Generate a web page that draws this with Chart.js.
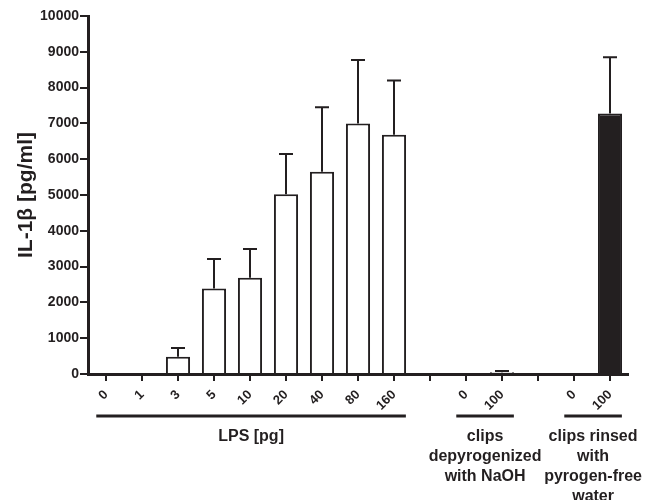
<!DOCTYPE html>
<html>
<head>
<meta charset="utf-8">
<script src="https://cdn.jsdelivr.net/npm/chart.js@4.4.1/dist/chart.umd.min.js"></script>
<style>
  html, body { margin: 0; padding: 0; background: #fff; }
  #wrap { width: 655px; height: 500px; }
</style>
</head>
<body>
<div id="wrap"><canvas id="il1bChart"></canvas></div>
<script>
// categories on the x axis ('' = spacer between groups)
const labels = ['0', '1', '3', '5', '10', '20', '40', '80', '160', '', '0', '100', '', '0', '100'];
// mean IL-1b (pg/ml)
const means = [0, 0, 485, 2390, 2690, 5020, 5650, 7000, 6685, null, 0, 50, null, 0, 7280];
// upper end of the error bar (mean + SD)
const upper = [null, null, 725, 3210, 3490, 6145, 7450, 8770, 8195, null, null, 85, null, null, 8845];
const yTicks = [0, 1000, 2000, 3000, 4000, 5000, 6000, 7000, 8000, 9000, 10000];
// groups under the axis: first and last category index, label lines
const groupNames = [['LPS [pg]'], ['clips', 'depyrogenized', 'with NaOH'], ['clips rinsed', 'with', 'pyrogen-free', 'water']];
const groupFrom = [0, 10, 13];
const groupTo = [8, 11, 14];

const ink = '#231f20';
const font = '"Liberation Sans", Arial, Helvetica, sans-serif';

const barColors = labels.map((l, i) => i >= 13 ? ink : '#ffffff');

const errorBars = {
  id: 'errorBars',
  afterDatasetsDraw(chart) {
    const ctx = chart.ctx;
    const x = chart.scales.x, y = chart.scales.y;
    ctx.save();
    ctx.strokeStyle = ink;
    ctx.lineWidth = 2;
    upper.forEach((u, i) => {
      if (u == null) return;
      const px = x.getPixelForValue(i);
      const top = y.getPixelForValue(u);
      const base = y.getPixelForValue(means[i]);
      ctx.beginPath();
      ctx.moveTo(px, base);
      ctx.lineTo(px, top);
      ctx.moveTo(px - 7, top);
      ctx.lineTo(px + 7, top);
      ctx.stroke();
    });
    ctx.restore();
  }
};

const groupLabels = {
  id: 'groupLabels',
  afterDraw(chart) {
    const ctx = chart.ctx;
    const x = chart.scales.x;
    const step = x.getPixelForValue(1) - x.getPixelForValue(0);
    const lineY = 416;
    ctx.save();
    ctx.strokeStyle = ink;
    ctx.fillStyle = ink;
    ctx.lineWidth = 3;
    ctx.font = 'bold 16px ' + font;
    ctx.textAlign = 'center';
    ctx.textBaseline = 'middle';
    groupNames.forEach((lines, g) => {
      const x0 = x.getPixelForValue(groupFrom[g]) - step * 0.27;
      const x1 = Math.min(x.getPixelForValue(groupTo[g]) + step * 0.33, chart.chartArea.right);
      ctx.beginPath();
      ctx.moveTo(x0, lineY);
      ctx.lineTo(x1, lineY);
      ctx.stroke();
      const cx = (x0 + x1) / 2;
      lines.forEach((t, k) => ctx.fillText(t, cx, lineY + 21 + k * 20));
    });
    ctx.restore();
  }
};

const ctx = document.getElementById('il1bChart').getContext('2d');
const chart = new Chart(ctx, {
  type: 'bar',
  data: {
    labels: labels,
    datasets: [{
      data: means,
      backgroundColor: barColors,
      borderColor: ink,
      borderWidth: 2,
      borderSkipped: 'bottom',
      barPercentage: 0.67,
      categoryPercentage: 1
    }]
  },
  options: {
    responsive: true,
    maintainAspectRatio: false,
    animation: false,
    layout: { padding: { top: 16, right: 27, bottom: 0, left: 0 } },
    plugins: {
      legend: { display: false },
      tooltip: { enabled: false }
    },
    scales: {
      x: {
        afterFit(scale) { scale.height = 126; },
        grid: {
          offset: false,
          drawOnChartArea: false,
          drawTicks: true,
          tickLength: 7,
          color: ink,
          lineWidth: 2
        },
        border: { color: ink, width: 3 },
        ticks: {
          minRotation: 45,
          maxRotation: 45,
          autoSkip: false,
          padding: 6,
          color: ink,
          font: { family: font, size: 13, weight: 'bold' }
        }
      },
      y: {
        min: 0,
        max: 10000,
        afterFit(scale) { scale.width = 88; },
        afterBuildTicks(scale) { scale.ticks = yTicks.map(v => ({ value: v })); },
        grid: {
          drawOnChartArea: false,
          tickLength: 8,
          color: ink,
          lineWidth: 2
        },
        border: { color: ink, width: 3 },
        ticks: {
          padding: 1,
          color: ink,
          font: { family: font, size: 14, weight: 'bold' },
          callback: v => String(v)
        },
        title: {
          display: true,
          text: 'IL-1β [pg/ml]',
          color: ink,
          padding: { top: 14, bottom: 0 },
          font: { family: font, size: 21, weight: 'bold' }
        }
      }
    }
  },
  plugins: [errorBars, groupLabels]
});
</script>
</body>
</html>
